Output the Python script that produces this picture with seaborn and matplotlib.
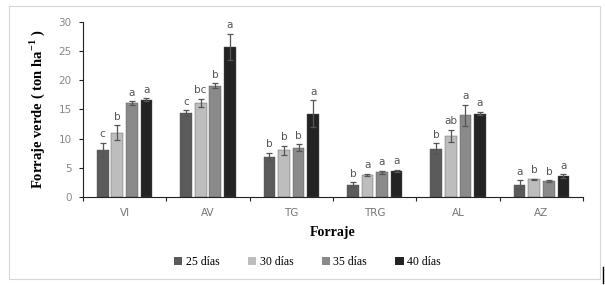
import numpy as np
import pandas as pd
import matplotlib
matplotlib.use("Agg")
import matplotlib.pyplot as plt
from matplotlib.patches import Rectangle
from matplotlib.lines import Line2D
import seaborn as sns

# datos
forrajes = ["VI", "AV", "TG", "TRG", "AL", "AZ"]
edades = ["25 días", "30 días", "35 días", "40 días"]
d25 = [8.1, 14.4, 6.9, 2.1, 8.3, 2.1]
d30 = [11.0, 16.1, 8.0, 3.8, 10.5, 3.0]
d35 = [16.1, 19.1, 8.4, 4.2, 14.0, 2.7]
d40 = [16.7, 25.7, 14.3, 4.5, 14.3, 3.6]
e25 = [1.2, 0.5, 0.7, 0.4, 0.9, 0.8]
e30 = [1.3, 0.7, 0.8, 0.2, 1.0, 0.1]
e35 = [0.3, 0.4, 0.6, 0.3, 1.8, 0.2]
e40 = [0.2, 2.3, 2.3, 0.2, 0.3, 0.3]
l25 = ["c", "c", "b", "b", "b", "a"]
l30 = ["b", "bc", "b", "a", "ab", "b"]
l35 = ["a", "b", "b", "a", "a", "b"]
l40 = ["a", "a", "a", "a", "a", "a"]

valores = [d25, d30, d35, d40]
errores = [e25, e30, e35, e40]
letras = [l25, l30, l35, l40]

df = pd.DataFrame({
    "Forraje": np.tile(forrajes, 4),
    "Edad": np.repeat(edades, len(forrajes)),
    "valor": np.concatenate(valores),
})

colores = ["#5b5b5b", "#bdbdbd", "#8a8a8a", "#232323"]

fig = plt.figure(figsize=(6.05, 2.85), dpi=100)
ax = fig.add_axes([0.137, 0.309, 0.827, 0.614])

sns.barplot(data=df, x="Forraje", y="valor", hue="Edad", order=forrajes,
            hue_order=edades, palette=colores, width=0.7, gap=0.2,
            errorbar=None, legend=False, ax=ax, edgecolor="#555555", linewidth=0.3)

# barras de error y letras
for cont, err, let in zip(ax.containers, errores, letras):
    xs = [p.get_x() + p.get_width() / 2 for p in cont.patches]
    hs = [p.get_height() for p in cont.patches]
    ax.errorbar(xs, hs, yerr=err, fmt="none", ecolor="#555555",
                elinewidth=0.9, capsize=2.5, capthick=0.9)
    for x, h, e, t in zip(xs, hs, err, let):
        ax.text(x, h + e + 0.6, t, ha="center", va="bottom", fontsize=7.5,
                color="#555555", family="DejaVu Sans")

ax.set_xlim(-0.5, 5.5)
ax.set_ylim(0, 30)
ax.set_yticks(range(0, 31, 5))
ax.set_xticks(np.arange(-0.5, 6.0, 1.0), minor=True)
ax.tick_params(axis="x", which="major", length=0, pad=8, labelsize=7.5,
               labelcolor="#777777")
ax.tick_params(axis="x", which="minor", length=3, width=0.8, color="#222222")
ax.tick_params(axis="y", length=3, width=0.8, labelsize=7.5,
               labelcolor="#888888", color="#222222", pad=5)
for s in ["top", "right"]:
    ax.spines[s].set_visible(False)
ax.spines["left"].set_color("#222222")
ax.spines["bottom"].set_color("#222222")
ax.spines["left"].set_linewidth(0.8)
ax.spines["bottom"].set_linewidth(0.8)

ax.set_xlabel("Forraje", family="Liberation Serif", fontweight="bold",
              fontsize=10, labelpad=6)
ax.set_ylabel("Forraje verde ( ton ha$^{\\mathregular{-1}}$ )", family="Liberation Serif",
              fontweight="bold", fontsize=10.5, labelpad=8)

handles = [Rectangle((0, 0), 1, 1, facecolor=c, edgecolor="none") for c in colores]
fig.legend(handles, edades, loc="center", bbox_to_anchor=(0.508, 0.08), ncol=4,
           frameon=False, prop={"family": "Liberation Serif", "size": 8.5},
           handlelength=0.7, handleheight=0.7, handletextpad=0.3, columnspacing=2.4)

# marco de la figura
fig.patches.append(Rectangle((9 / 605, 6 / 285), 591 / 605, 273 / 285,
                             transform=fig.transFigure, fill=False,
                             edgecolor="#d6d6d6", linewidth=0.8))
fig.lines.append(Line2D([603 / 605, 603 / 605], [2 / 285, 18 / 285],
                        transform=fig.transFigure, color="black", linewidth=1))

fig.savefig("out.png", dpi=100, facecolor="white")
